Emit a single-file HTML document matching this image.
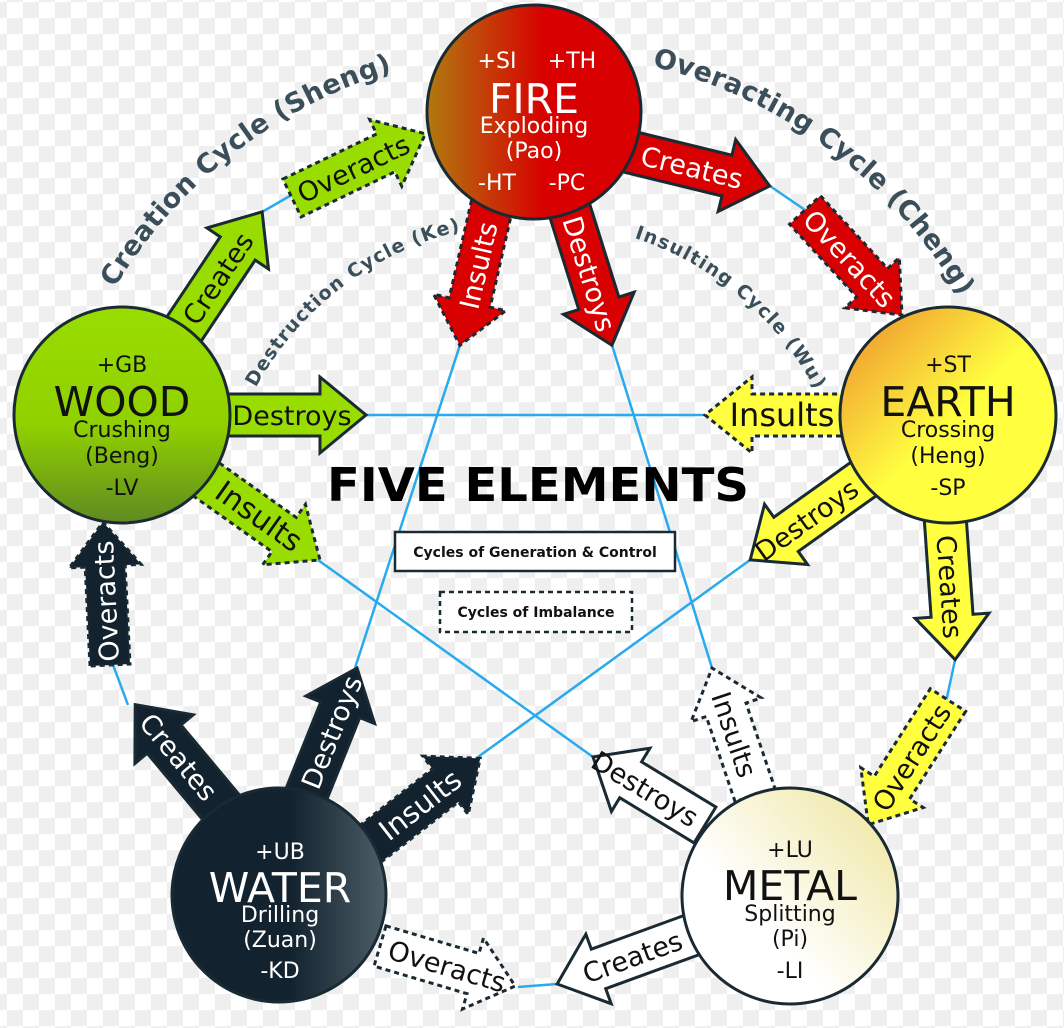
<!DOCTYPE html>
<html><head><meta charset="utf-8"><style>
html,body{margin:0;padding:0;background:#fff;}
svg{display:block;}
text{font-family:"DejaVu Sans","Liberation Sans",sans-serif;}
</style></head><body>
<svg width="1064" height="1028" viewBox="0 0 1064 1028" xmlns="http://www.w3.org/2000/svg">
<defs>
<pattern id="chk" x="7" y="2" width="32" height="32" patternUnits="userSpaceOnUse">
<rect width="32" height="32" fill="#ffffff"/>
<rect x="16" y="0" width="16" height="16" fill="#efefef"/>
<rect x="0" y="16" width="16" height="16" fill="#efefef"/>
</pattern>
<linearGradient id="gFire" x1="0" y1="0" x2="1" y2="0">
<stop offset="0" stop-color="#b07a10"/><stop offset="0.55" stop-color="#d80000"/><stop offset="1" stop-color="#d80000"/>
</linearGradient>
<linearGradient id="gWood" x1="0" y1="0" x2="0" y2="1">
<stop offset="0" stop-color="#99dd00"/><stop offset="0.55" stop-color="#90d000"/><stop offset="1" stop-color="#5f8a22"/>
</linearGradient>
<linearGradient id="gEarth" x1="0.1" y1="0.1" x2="0.7" y2="0.7">
<stop offset="0" stop-color="#f0a030"/><stop offset="0.7" stop-color="#ffff40"/><stop offset="1" stop-color="#ffff40"/>
</linearGradient>
<linearGradient id="gWater" x1="0" y1="0" x2="1" y2="0">
<stop offset="0" stop-color="#12222e"/><stop offset="0.55" stop-color="#12222e"/><stop offset="1" stop-color="#4e5e68"/>
</linearGradient>
<linearGradient id="gMetal" x1="0.9" y1="0.1" x2="0.35" y2="0.6">
<stop offset="0" stop-color="#f0e8a8"/><stop offset="1" stop-color="#ffffff"/>
</linearGradient>
<path id="arcL" d="M74.5,372.4 A490,490 0 0 1 483.8,52.7"/>
<path id="arcR" d="M586.2,54.7 A490,490 0 0 1 989.3,356.5"/>
<path id="arcKe" d="M227.8,457.7 A318,318 0 0 1 535,222"/>
<path id="arcWu" d="M535,222 A318,318 0 0 1 848.2,484.8"/>
</defs>
<rect width="1064" height="1028" fill="url(#chk)"/>

<g stroke="#29aaee" stroke-width="2.5" fill="none">
<line x1="262" y1="212" x2="295" y2="193"/>
<line x1="770" y1="186" x2="808" y2="212"/>
<line x1="955" y1="660" x2="946" y2="702"/>
<line x1="557" y1="984" x2="518" y2="987"/>
<line x1="128" y1="705" x2="112" y2="662"/>
<line x1="460" y1="345" x2="355" y2="668"/>
<line x1="612" y1="345" x2="712" y2="668"/>
<line x1="318" y1="560" x2="593" y2="757"/>
<line x1="750" y1="560" x2="478" y2="757"/>
<line x1="366" y1="415" x2="705" y2="415"/>
</g>

<g fill="#3b4f5a" font-weight="bold">
<text font-size="27"><textPath href="#arcL" startOffset="50%" text-anchor="middle" textLength="360" lengthAdjust="spacing">Creation Cycle (Sheng)</textPath></text>
<text font-size="27"><textPath href="#arcR" startOffset="50%" text-anchor="middle" textLength="395" lengthAdjust="spacing">Overacting Cycle (Cheng)</textPath></text>
<text font-size="19"><textPath href="#arcKe" startOffset="50%" text-anchor="middle" textLength="265" lengthAdjust="spacing">Destruction Cycle (Ke)</textPath></text>
<text font-size="19"><textPath href="#arcWu" startOffset="50%" text-anchor="middle" textLength="242" lengthAdjust="spacing">Insulting Cycle (Wu)</textPath></text>
</g>

<g stroke="#1a2a33" stroke-width="3" stroke-linejoin="miter" font-size="27">
<g transform="translate(622,150) rotate(13.7)"><polygon fill="#d80000" points="0,-21 108,-21 108,-37 152,0 108,37 108,21 0,21"/><text x="72" y="10" fill="#fff" stroke="none" text-anchor="middle">Creates</text></g>
<g transform="translate(492,205) rotate(102.9)"><polygon fill="#d80000" stroke-dasharray="5,4" points="0,-21 100,-21 100,-37 144,0 100,37 100,21 0,21"/><text transform="rotate(180 62 0)" x="62" y="10" fill="#fff" stroke="none" text-anchor="middle">Insults</text></g>
<g transform="translate(568,205) rotate(72.6)"><polygon fill="#d80000" points="0,-21 103,-21 103,-37 147,0 103,37 103,21 0,21"/><text x="72" y="10" fill="#fff" stroke="none" text-anchor="middle">Destroys</text></g>
<g transform="translate(805,210) rotate(47.3)"><polygon fill="#d80000" stroke-dasharray="5,4" points="0,-21 99,-21 99,-37 143,0 99,37 99,21 0,21"/><text x="66" y="10" fill="#fff" stroke="none" text-anchor="middle">Overacts</text></g>
<g transform="translate(180,335) rotate(-56.3)"><polygon fill="#99dd00" points="0,-21 104,-21 104,-37 148,0 104,37 104,21 0,21"/><text x="68" y="10" fill="#111" stroke="none" text-anchor="middle">Creates</text></g>
<g transform="translate(220,415)"><polygon fill="#99dd00" points="0,-21 100,-21 100,-38 146,0 100,38 100,21 0,21"/><text x="72" y="10" fill="#111" stroke="none" text-anchor="middle">Destroys</text></g>
<g transform="translate(200,475) rotate(35.3)"><polygon fill="#99dd00" stroke-dasharray="5,4" points="0,-21 103,-21 103,-37 147,0 103,37 103,21 0,21"/><text x="72" y="10" fill="#111" stroke="none" text-anchor="middle" font-size="30">Insults</text></g>
<g transform="translate(292,198) rotate(-25.7)"><polygon fill="#99dd00" stroke-dasharray="5,4" points="0,-21 104,-21 104,-37 148,0 104,37 104,21 0,21"/><text x="68" y="10" fill="#111" stroke="none" text-anchor="middle">Overacts</text></g>
<g transform="translate(850,415) rotate(180)"><polygon fill="#ffff40" stroke-dasharray="5,4" points="0,-21 98,-21 98,-38 145,0 98,38 98,21 0,21"/><text transform="rotate(180 68 0)" x="68" y="11" fill="#111" stroke="none" text-anchor="middle" font-size="32">Insults</text></g>
<g transform="translate(865,478) rotate(144.5)"><polygon fill="#ffff40" points="0,-21 97,-21 97,-37 141,0 97,37 97,21 0,21"/><text transform="rotate(180 72 0)" x="72" y="10" fill="#111" stroke="none" text-anchor="middle">Destroys</text></g>
<g transform="translate(945,515) rotate(86)"><polygon fill="#ffff40" points="0,-21 101,-21 101,-37 145,0 101,37 101,21 0,21"/><text x="72" y="10" fill="#111" stroke="none" text-anchor="middle">Creates</text></g>
<g transform="translate(948,700) rotate(122.6)"><polygon fill="#ffff40" stroke-dasharray="5,4" points="0,-21 104,-21 104,-37 148,0 104,37 104,21 0,21"/><text transform="rotate(180 68 0)" x="68" y="10" fill="#111" stroke="none" text-anchor="middle">Overacts</text></g>
<g transform="translate(755,795) rotate(-108.7)"><polygon fill="#fff" stroke-dasharray="5,4" points="0,-21 90,-21 90,-37 134,0 90,37 90,21 0,21"/><text transform="rotate(180 64 0)" x="64" y="10" fill="#111" stroke="none" text-anchor="middle">Insults</text></g>
<g transform="translate(705,825) rotate(-148.7)"><polygon fill="#fff" points="0,-21 87,-21 87,-37 131,0 87,37 87,21 0,21"/><text transform="rotate(180 70 0)" x="70" y="10" fill="#111" stroke="none" text-anchor="middle">Destroys</text></g>
<g transform="translate(700,932) rotate(160)"><polygon fill="#fff" points="0,-21 108,-21 108,-37 152,0 108,37 108,21 0,21"/><text transform="rotate(180 72 0)" x="72" y="10" fill="#111" stroke="none" text-anchor="middle">Creates</text></g>
<g transform="translate(380,946) rotate(16.5)"><polygon fill="#fff" stroke-dasharray="5,4" points="0,-21 97,-21 97,-37 141,0 97,37 97,21 0,21"/><text x="70" y="10" fill="#111" stroke="none" text-anchor="middle">Overacts</text></g>
<g transform="translate(225,812) rotate(-129.9)"><polygon fill="#12222e" points="0,-22 95,-22 95,-38 140,0 95,38 95,22 0,22"/><text transform="rotate(180 72 0)" x="72" y="10" fill="#fff" stroke="none" text-anchor="middle">Creates</text></g>
<g transform="translate(300,810) rotate(-68.1)"><polygon fill="#12222e" points="0,-21 108,-21 108,-37 153,0 108,37 108,21 0,21"/><text x="84" y="10" fill="#fff" stroke="none" text-anchor="middle">Destroys</text></g>
<g transform="translate(365,848) rotate(-37.9)"><polygon fill="#12222e" stroke-dasharray="5,4" points="0,-21 102,-21 102,-37 146,0 102,37 102,21 0,21"/><text x="70" y="10" fill="#fff" stroke="none" text-anchor="middle" font-size="29">Insults</text></g>
<g transform="translate(110,665) rotate(-92.8)"><polygon fill="#12222e" stroke-dasharray="5,4" points="0,-20 99,-20 99,-36 143,0 99,36 99,20 0,20"/><text x="64" y="9" fill="#fff" stroke="none" text-anchor="middle">Overacts</text></g>
</g>

<g stroke="#1a2a33" stroke-width="3">
<circle cx="534" cy="112" r="107" fill="url(#gFire)"/>
<circle cx="122" cy="415" r="108" fill="url(#gWood)"/>
<circle cx="948" cy="415" r="108" fill="url(#gEarth)"/>
<circle cx="279" cy="895" r="107" fill="url(#gWater)"/>
<circle cx="790" cy="896" r="108" fill="url(#gMetal)"/>
</g>

<g text-anchor="middle" font-size="22">
<g fill="#fff">
<text x="497" y="68">+SI</text><text x="572" y="68">+TH</text>
<text x="534" y="113" font-size="41">FIRE</text>
<text x="534" y="133">Exploding</text>
<text x="534" y="158">(Pao)</text>
<text x="497" y="190">-HT</text><text x="567" y="190">-PC</text>
</g>
<g fill="#111">
<text x="122" y="372">+GB</text>
<text x="122" y="416" font-size="41">WOOD</text>
<text x="122" y="437">Crushing</text>
<text x="122" y="463">(Beng)</text>
<text x="122" y="495">-LV</text>
<text x="948" y="372">+ST</text>
<text x="948" y="416" font-size="41">EARTH</text>
<text x="948" y="437">Crossing</text>
<text x="948" y="463">(Heng)</text>
<text x="948" y="495">-SP</text>
<text x="790" y="857">+LU</text>
<text x="790" y="900" font-size="41">METAL</text>
<text x="790" y="921">Splitting</text>
<text x="790" y="946">(Pi)</text>
<text x="790" y="978">-LI</text>
</g>
<g fill="#fff">
<text x="280" y="859">+UB</text>
<text x="280" y="902" font-size="41">WATER</text>
<text x="280" y="922">Drilling</text>
<text x="280" y="947">(Zuan)</text>
<text x="280" y="978">-KD</text>
</g>
</g>

<text x="538" y="501" text-anchor="middle" font-size="46" font-weight="bold" fill="#000" textLength="422" lengthAdjust="spacingAndGlyphs">FIVE ELEMENTS</text>
<rect x="395" y="532" width="280" height="39" fill="#fff" stroke="#1a2a33" stroke-width="2.5"/>
<text x="535" y="557" text-anchor="middle" font-size="14" font-weight="bold" fill="#111">Cycles of Generation &amp; Control</text>
<rect x="440" y="592" width="192" height="40" fill="#fff" stroke="#1a2a33" stroke-width="2.5" stroke-dasharray="5,4"/>
<text x="536" y="617" text-anchor="middle" font-size="14" font-weight="bold" fill="#111">Cycles of Imbalance</text>
</svg>
</body></html>
